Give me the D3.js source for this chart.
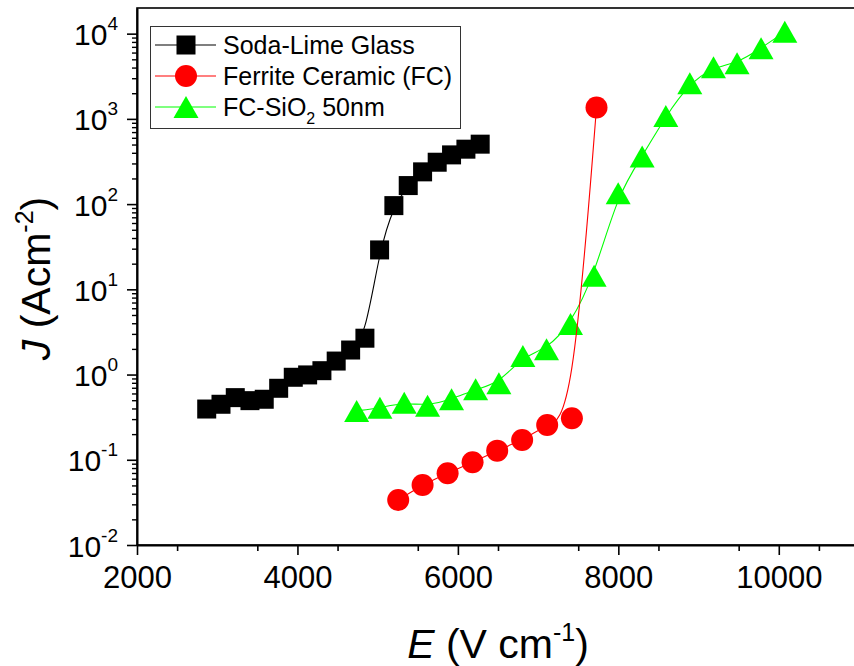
<!DOCTYPE html>
<html>
<head>
<meta charset="utf-8">
<script src="https://cdn.jsdelivr.net/npm/d3@7"></script>
<style>
  html, body { margin: 0; padding: 0; background: #fff; }
  svg { display: block; font-family: "Liberation Sans", Arial, sans-serif; }
</style>
</head>
<body>
<svg id="chart" width="854" height="666"></svg>
<script>
// ---- Data ----
const sodaE = [2869, 3047, 3225, 3408, 3586, 3766, 3948, 4127, 4305, 4483, 4663, 4841, 5024, 5202, 5381, 5560, 5742, 5921, 6100, 6278];
const sodaJ = [0.394, 0.448, 0.536, 0.494, 0.513, 0.690, 0.929, 0.99, 1.11, 1.44, 1.94, 2.67, 29.0, 96, 165, 239, 310, 378, 441, 505];

const ferriteE = [5256, 5560, 5872, 6183, 6490, 6801, 7113, 7421, 7728];
const ferriteJ = [0.0337, 0.0506, 0.0695, 0.0935, 0.128, 0.171, 0.256, 0.307, 1358];

const fcSiE = [4738, 5028, 5331, 5622, 5921, 6221, 6511, 6810, 7105, 7404, 7698, 7998, 8297, 8592, 8891, 9186, 9480, 9779, 10075];
const fcSiJ = [0.374, 0.408, 0.468, 0.431, 0.513, 0.671, 0.791, 1.65, 1.98, 3.93, 14.4, 134, 361, 1084, 2624, 4046, 4508, 6761, 10500];

const seriesNames = ["Soda-Lime Glass", "Ferrite Ceramic (FC)", "FC-SiO"];
const xTicks = [2000, 4000, 6000, 8000, 10000];
const yTicks = [1e-2, 1e-1, 1e0, 1e1, 1e2, 1e3, 1e4];

// ---- Layout ----
const svg = d3.select("#chart");
const L = 137, R = 859, T = 8, B = 545;

const x = d3.scaleLinear().domain([2000, 11000]).range([L, R]);
const y = d3.scaleLog().domain([0.01, 20000]).range([B, T]);

// frame
svg.append("rect").attr("x", L).attr("y", T).attr("width", R - L).attr("height", B - T)
  .attr("fill", "none").attr("stroke", "#000").attr("stroke-width", 1.6);

// x minor ticks
const xMinor = d3.range(2500, 11000, 1000);
svg.append("g").attr("transform", `translate(0,${B})`)
  .call(d3.axisBottom(x).tickValues(xMinor).tickSize(6).tickSizeOuter(0).tickFormat(""))
  .call(g => g.select(".domain").remove())
  .call(g => g.selectAll("line").attr("stroke-width", 1.6));

// x major axis
svg.append("g").attr("transform", `translate(0,${B})`)
  .call(d3.axisBottom(x).tickValues(xTicks).tickSize(10).tickSizeOuter(0).tickPadding(10).tickFormat(d3.format("d")))
  .call(g => g.select(".domain").attr("stroke-width", 2))
  .call(g => g.selectAll("line").attr("stroke-width", 1.6))
  .call(g => g.selectAll("text").attr("font-size", 31).attr("font-family", "Liberation Sans, Arial, sans-serif")
    .attr("fill", "#000").attr("dy", null).attr("y", 43));

// y minor ticks
const yMinor = [];
for (let e = -2; e <= 4; e++) for (let m = 2; m <= 9; m++) { const v = m * Math.pow(10, e); if (v < 20000) yMinor.push(v); }
svg.append("g").attr("transform", `translate(${L},0)`)
  .call(d3.axisLeft(y).tickValues(yMinor).tickSize(5).tickSizeOuter(0).tickFormat(""))
  .call(g => g.select(".domain").remove())
  .call(g => g.selectAll("line").attr("stroke-width", 1.4));

// y major axis
svg.append("g").attr("transform", `translate(${L},0)`)
  .call(d3.axisLeft(y).tickValues(yTicks).tickSize(10).tickSizeOuter(0).tickPadding(8).tickFormat(""))
  .call(g => g.select(".domain").attr("stroke-width", 2))
  .call(g => g.selectAll("line").attr("stroke-width", 1.6))
  .call(g => g.selectAll("text").each(function (d) {
    const t = d3.select(this);
    t.text(null).attr("dy", null).attr("y", 11).attr("x", -19).attr("fill", "#000")
      .attr("font-size", 30).attr("font-family", "Liberation Sans, Arial, sans-serif");
    t.append("tspan").text("10");
    t.append("tspan").attr("dy", -15).attr("font-size", 19).text(String(Math.round(Math.log10(d))));
  }));

// axis titles
const xt = svg.append("text").attr("x", (L + R) / 2).attr("y", 658).attr("text-anchor", "middle")
  .attr("font-size", 41).attr("fill", "#000");
xt.append("tspan").attr("font-style", "italic").text("E");
xt.append("tspan").text(" (V cm");
xt.append("tspan").attr("dy", -17).attr("font-size", 25).text("-1");
xt.append("tspan").attr("dy", 17).text(")");

const yt = svg.append("text").attr("transform", `translate(50,${(T + B) / 2 + 2}) rotate(-90)`)
  .attr("text-anchor", "middle").attr("font-size", 41).attr("fill", "#000");
yt.append("tspan").attr("font-style", "italic").text("J");
yt.append("tspan").text(" (Acm");
yt.append("tspan").attr("dy", -17).attr("font-size", 25).text("-2");
yt.append("tspan").attr("dy", 17).text(")");

// ---- Marker shapes ----
function drawMarker(g, type, cx, cy) {
  if (type === "square") {
    g.append("rect").attr("x", cx - 9.5).attr("y", cy - 9.5).attr("width", 19).attr("height", 19).attr("fill", "#000");
  } else if (type === "circle") {
    g.append("circle").attr("cx", cx).attr("cy", cy).attr("r", 11).attr("fill", "#ff0000");
  } else {
    g.append("path").attr("d", `M${cx},${cy - 11}L${cx + 12.5},${cy + 11}L${cx - 12.5},${cy + 11}Z`).attr("fill", "#00ff00");
  }
}

const series = [
  { E: fcSiE, J: fcSiJ, color: "#00ff00", type: "triangle" },
  { E: ferriteE, J: ferriteJ, color: "#ff0000", type: "circle" },
  { E: sodaE, J: sodaJ, color: "#000000", type: "square" }
];

const line = d3.line().x(d => x(d[0])).y(d => y(d[1])).curve(d3.curveBasis);

series.forEach(s => {
  const pts = s.E.map((e, i) => [e, s.J[i]]);
  const g = svg.append("g");
  g.append("path").attr("d", line(pts)).attr("fill", "none").attr("stroke", s.color).attr("stroke-width", 1.1);
  pts.forEach(p => drawMarker(g, s.type, x(p[0]), y(p[1])));
});

// ---- Legend ----
const lg = svg.append("g");
lg.append("rect").attr("x", 150.5).attr("y", 26.5).attr("width", 310).attr("height", 102)
  .attr("fill", "#fff").attr("stroke", "#333").attr("stroke-width", 1);
const legendItems = [
  { color: "#000000", type: "square", y: 45 },
  { color: "#ff0000", type: "circle", y: 76 },
  { color: "#00ff00", type: "triangle", y: 107 }
];
legendItems.forEach((it, i) => {
  lg.append("line").attr("x1", 155).attr("x2", 216).attr("y1", it.y).attr("y2", it.y)
    .attr("stroke", it.color).attr("stroke-width", 1.1);
  drawMarker(lg, it.type, 186, it.y);
  const t = lg.append("text").attr("x", 223).attr("y", it.y + 9).attr("font-size", 25).attr("fill", "#000");
  t.append("tspan").text(seriesNames[i]);
  if (i === 2) {
    t.append("tspan").attr("dy", 8).attr("font-size", 16).text("2");
    t.append("tspan").attr("dy", -8).text(" 50nm");
  }
});
</script>
</body>
</html>
